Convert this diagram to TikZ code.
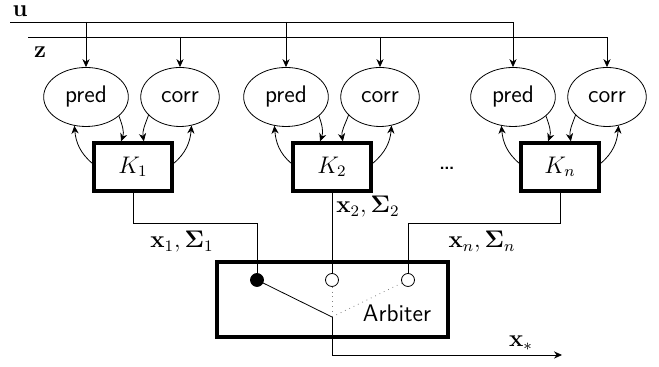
\documentclass[tikz,border=0pt]{standalone}
\usepackage{amsmath}
\usepackage{bm}
\usetikzlibrary{shapes.geometric,arrows.meta}

\begin{document}
\begin{tikzpicture}[x=0.5pt,y=0.5pt,>={Stealth[length=4pt,width=3.6pt,inset=1.3pt]},
            font=\fontsize{12}{14}\selectfont,
            blob/.style={draw,ellipse,font=\sffamily\fontsize{12}{14}\selectfont,inner xsep=4.5pt,inner ysep=0pt,minimum height=29.5pt},
            filt/.style={draw,line width=1.6pt,minimum width=39pt,minimum height=24pt},
            port/.style={draw,circle,fill=white,inner sep=0pt,minimum size=6.5pt}]

            \useasboundingbox (0,0) rectangle (659,367);

            \coordinate (u0) at (10,345);
            \coordinate (z0) at (28,330);
            \coordinate (bus) at (0,144);
            \coordinate (sw) at (332,50);
            \coordinate (xout) at (562,12);

            \node (ulab) at (20,356) {$\mathbf{u}$};
            \node (zlab) at (40,315) {$\mathbf{z}$};

            \node [blob] (pred1) at (86,270) {pred};
            \node [blob] (corr1) at (180,270) {corr};
            \node [blob] (pred2) at (286,270) {pred};
            \node [blob] (corr2) at (380,270) {corr};
            \node [blob] (pred3) at (513,270) {pred};
            \node [blob] (corr3) at (607,270) {corr};

            \node [filt] (K1) at (133,200) {$K_1$};
            \node [filt] (K2) at (332,200) {$K_2$};
            \node [filt] (K3) at (560,200) {$K_n$};
            \node [font=\sffamily\fontsize{14}{16}\selectfont] (dots) at (447,199) {\dots};

            % inputs
            \draw [->] (u0) -| (pred3);
            \draw [->] (pred1 |- u0) -- (pred1);
            \draw [->] (pred2 |- u0) -- (pred2);
            \draw [->] (z0) -| (corr3);
            \draw [->] (corr1 |- z0) -- (corr1);
            \draw [->] (corr2 |- z0) -- (corr2);

            % filter loops
            \draw [->] (pred1.-30) to[out=-70,in=70] (K1.115);
            \draw [->] (K1.175) to[out=140,in=-85] (pred1.-112);
            \draw [->] (corr1.-150) to[out=-110,in=100] (K1.67);
            \draw [->] (K1.5) to[out=40,in=-95] (corr1.-68);

            \draw [->] (pred2.-30) to[out=-70,in=70] (K2.115);
            \draw [->] (K2.175) to[out=140,in=-85] (pred2.-112);
            \draw [->] (corr2.-150) to[out=-110,in=100] (K2.67);
            \draw [->] (K2.5) to[out=40,in=-95] (corr2.-68);

            \draw [->] (pred3.-30) to[out=-70,in=70] (K3.115);
            \draw [->] (K3.175) to[out=140,in=-85] (pred3.-112);
            \draw [->] (corr3.-150) to[out=-110,in=100] (K3.67);
            \draw [->] (K3.5) to[out=40,in=-95] (corr3.-68);

            % arbiter
            \node [draw,line width=1.6pt,minimum width=115.5pt,minimum height=37.5pt] (arb) at (332.5,67.5) {};
            \node [font=\sffamily\fontsize{12}{14}\selectfont] (arblab) at (397,54) {Arbiter};

            \node [port,fill=black] (c1) at (257,87) {};
            \node [port] (c2) at (332,87) {};
            \node [port] (c3) at (408,87) {};

            \draw (K1.south) -- (K1.south |- bus) -- (c1 |- bus) -- (c1.north);
            \draw (K2.south) -- (c2.north);
            \draw (K3.south) -- (K3.south |- bus) -- (c3 |- bus) -- (c3.north);

            \node (lab1) at (182,125) {$\mathbf{x}_1, \bm{\Sigma}_1$};
            \node (lab2) at (368,160) {$\mathbf{x}_2, \bm{\Sigma}_2$};
            \node (lab3) at (482,125) {$\mathbf{x}_n, \bm{\Sigma}_n$};

            \draw (c1) -- (sw);
            \draw [dotted,gray] (c2) -- (sw);
            \draw [dotted,gray] (c3) -- (sw);
            \draw [->] (sw) |- (xout);
            \node (labout) at (521,24) {$\mathbf{x}_*$};
    \end{tikzpicture}
\end{document}
